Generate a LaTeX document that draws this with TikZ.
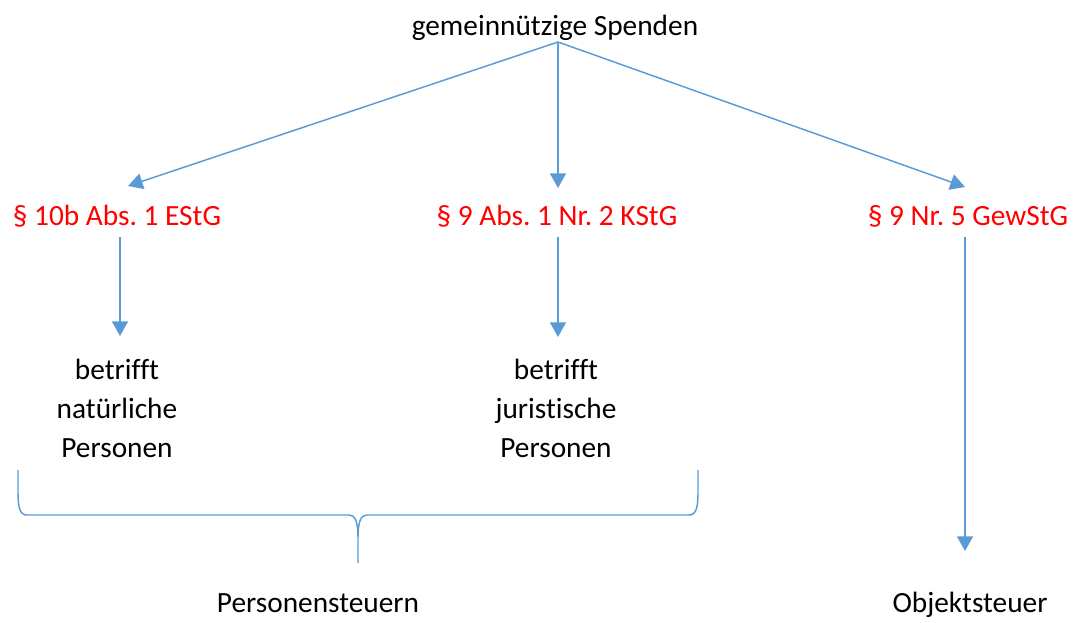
\documentclass[tikz,border=0pt]{standalone}
\usepackage{fontspec}
\setmainfont{Carlito}[Ligatures=NoCommon]
\usetikzlibrary{arrows.meta}
\definecolor{linkblue}{HTML}{5B9BD5}
\definecolor{lawred}{HTML}{FF0000}
\frenchspacing
\begin{document}
\begin{tikzpicture}[x=0.75pt,y=-0.75pt,
  txt/.style={anchor=base,inner sep=0pt,font=\fontsize{22}{28.9}\selectfont},
  law/.style={txt,text=lawred},
  link/.style={draw=linkblue,line width=1.1pt,-{Triangle[length=11pt,width=12pt]}},
  bracestyle/.style={draw=linkblue,line width=1.1pt}]
\useasboundingbox (0,0) rectangle (1078,622);

% headings and labels (multi-line nodes sit on the baseline of their last line)
\node[txt] (top) at (555,35) {gemeinnützige Spenden};
\node[law] (estg) at (117,225) {§ 10b Abs. 1 EStG};
\node[law] (kstg) at (557,225) {§ 9 Abs. 1 Nr. 2 KStG};
\node[law] (gewstg) at (968,225) {§ 9 Nr. 5 GewStG};
\node[txt,align=center] (nat) at (117,457) {betrifft\\natürliche\\Personen};
\node[txt,align=center] (jur) at (556,457) {betrifft\\juristische\\Personen};
\node[txt] (pers) at (318,612) {Personensteuern};
\node[txt] (obj) at (970,612) {Objektsteuer};

% connector end points
\coordinate (apex) at (558,42);
\coordinate (estgIn) at (128,186);
\coordinate (kstgIn) at (558,188);
\coordinate (gewIn) at (965,187);
\coordinate (estgOut) at (120,237);
\coordinate (natIn) at (120,336);
\coordinate (kstgOut) at (558,237);
\coordinate (jurIn) at (558,337);
\coordinate (gewOut) at (965,237);
\coordinate (objIn) at (965,551);

\draw[link] (apex) -- (estgIn);
\draw[link] (apex) -- (kstgIn);
\draw[link] (apex) -- (gewIn);
\draw[link] (estgOut) -- (natIn);
\draw[link] (kstgOut) -- (jurIn);
\draw[link] (gewOut) -- (objIn);

% curly brace grouping the two personal taxes
\draw[bracestyle] (18,470) -- (18,492)
  .. controls (18,508) and (20,515) .. (27,515) -- (349,515)
  .. controls (355,515) and (358,521) .. (358,538) -- (358,563)
  -- (358,538) .. controls (358,521) and (361,515) .. (367,515)
  -- (689,515) .. controls (696,515) and (698,508) .. (698,492) -- (698,470);
\end{tikzpicture}
\end{document}
